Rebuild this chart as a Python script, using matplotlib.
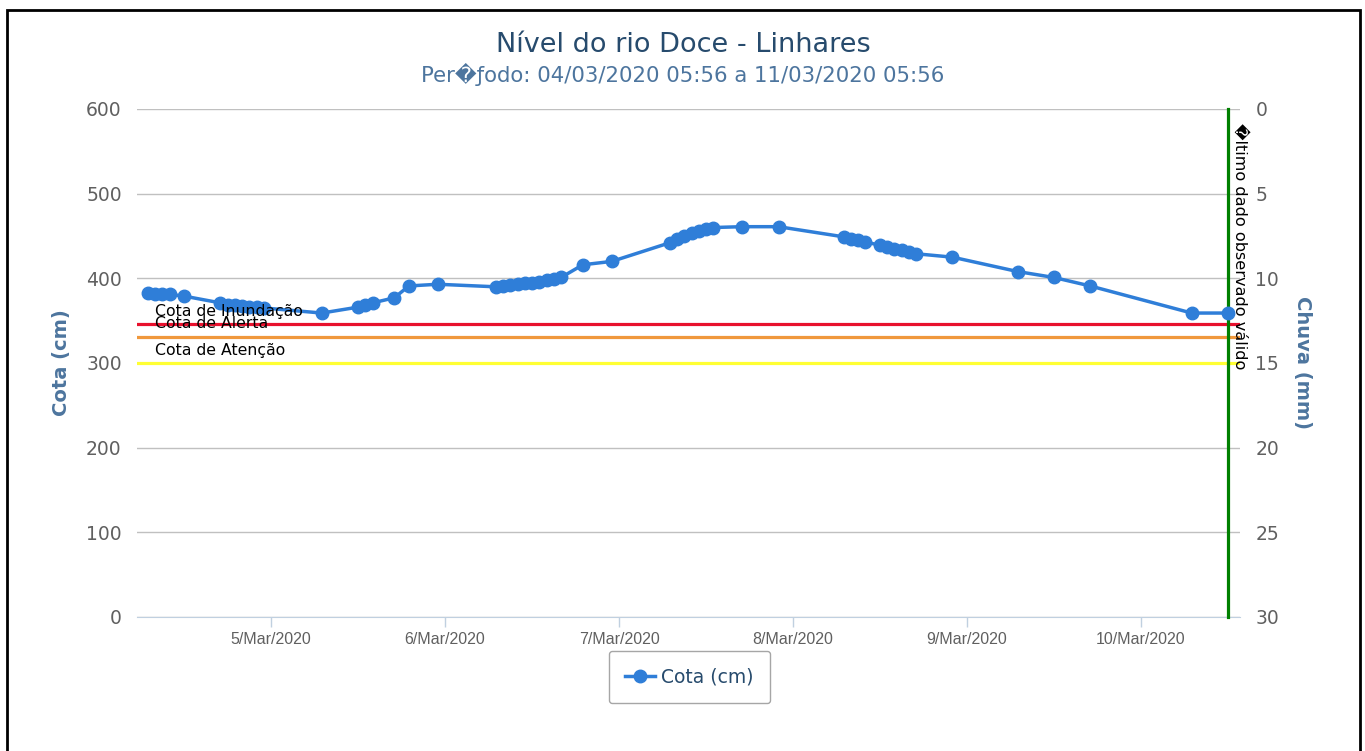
import matplotlib
matplotlib.use("Agg")
import matplotlib.pyplot as plt
import matplotlib.dates as mdates
import matplotlib.transforms as mtransforms
from matplotlib.patches import Rectangle
import pandas as pd

# ---- data ----
times = [
    "2020-03-04 07:00", "2020-03-04 08:00", "2020-03-04 09:00", "2020-03-04 10:00",
    "2020-03-04 12:00",
    "2020-03-04 17:00", "2020-03-04 18:00", "2020-03-04 19:00", "2020-03-04 20:00",
    "2020-03-04 21:00", "2020-03-04 22:00", "2020-03-04 23:00",
    "2020-03-05 07:00", "2020-03-05 12:00", "2020-03-05 13:00", "2020-03-05 14:00",
    "2020-03-05 17:00", "2020-03-05 19:00", "2020-03-05 23:00",
    "2020-03-06 07:00", "2020-03-06 08:00", "2020-03-06 09:00", "2020-03-06 10:00",
    "2020-03-06 11:00", "2020-03-06 12:00", "2020-03-06 13:00", "2020-03-06 14:00",
    "2020-03-06 15:00", "2020-03-06 16:00",
    "2020-03-06 19:00", "2020-03-06 23:00",
    "2020-03-07 07:00", "2020-03-07 08:00", "2020-03-07 09:00", "2020-03-07 10:00",
    "2020-03-07 11:00", "2020-03-07 12:00", "2020-03-07 13:00",
    "2020-03-07 17:00", "2020-03-07 22:00",
    "2020-03-08 07:00", "2020-03-08 08:00", "2020-03-08 09:00", "2020-03-08 10:00",
    "2020-03-08 12:00", "2020-03-08 13:00", "2020-03-08 14:00", "2020-03-08 15:00",
    "2020-03-08 16:00", "2020-03-08 17:00",
    "2020-03-08 22:00",
    "2020-03-09 07:00", "2020-03-09 12:00", "2020-03-09 17:00",
    "2020-03-10 07:00", "2020-03-10 12:00",
]
cota = [
    382.5, 382, 382, 381,
    379,
    371, 369, 368, 367,
    366, 366, 365,
    359, 366, 369, 371,
    377, 391, 393,
    390, 391, 392, 393,
    394, 395, 396, 398,
    399, 401,
    416, 420,
    442, 446, 450, 453,
    456, 458, 460,
    461, 461,
    449, 447, 445, 443,
    439, 437, 435, 433,
    431, 429,
    425,
    408, 401, 391,
    359, 359,
]
tick_days = ["2020-03-05", "2020-03-06", "2020-03-07", "2020-03-08", "2020-03-09", "2020-03-10"]
tick_labels = ["5/Mar/2020", "6/Mar/2020", "7/Mar/2020", "8/Mar/2020", "9/Mar/2020", "10/Mar/2020"]
ref_names = ["Cota de Inundação", "Cota de Alerta", "Cota de Atenção"]
ref_values = [346, 331, 300]
ref_colors = ["#e8112d", "#f0983c", "#ffff33"]
y_ticks = [0, 100, 200, 300, 400, 500, 600]
y2_ticks = [0, 5, 10, 15, 20, 25, 30]

t = pd.to_datetime(times)
xmin = pd.Timestamp("2020-03-04 05:30")
xmax = pd.Timestamp("2020-03-10 13:40")

W, H = 1365, 751
fig = plt.figure(figsize=(W / 100, H / 100), dpi=100)
L, R, T, B = 137, 1240, 109, 617
ax = fig.add_axes([L / W, 1 - B / H, (R - L) / W, (B - T) / H])

ax.plot(t, cota, color="#2f7ed8", lw=2.5, marker="o", ms=9, label="Cota (cm)", zorder=5)

ax.set_xlim(xmin, xmax)
ax.set_ylim(0, 600)
ax.set_yticks(y_ticks)
ax.yaxis.grid(True, color="#c0c0c0", lw=1)
ax.set_axisbelow(True)
for s in ["top", "left", "right"]:
    ax.spines[s].set_visible(False)
ax.spines["bottom"].set_color("#c0d0e0")
ax.tick_params(axis="y", length=0, pad=11, labelsize=13.5, labelcolor="#606060")
ax.set_xticks(pd.to_datetime(tick_days))
ax.set_xticklabels(tick_labels, fontfamily=["Liberation Sans Narrow", "Liberation Sans", "DejaVu Sans"],
                   fontsize=11.5, color="#606060")
ax.tick_params(axis="x", length=7, width=1, color="#c0d0e0", pad=4)

# reference lines
for name, val, col in zip(ref_names, ref_values, ref_colors):
    ax.axhline(val, color=col, lw=2.3, zorder=3)
    tr = mtransforms.offset_copy(ax.get_yaxis_transform(), fig=fig, x=0, y=6, units="points")
    ax.text(18 / (R - L), val, name, transform=tr, fontsize=11.3, color="black",
            va="baseline", ha="left", zorder=6)

# last valid data line
last_t = t[-1]
ax.plot([last_t, last_t], [0, 600], color="#008000", lw=2.3, zorder=4, clip_on=False)
tr2 = mtransforms.offset_copy(ax.transData, fig=fig, x=3, y=-10, units="points")
ax.text(last_t, 600, "\ufffdltimo dado observado válido", transform=tr2, rotation=-90,
        ha="left", va="top", fontsize=11.6, color="black", zorder=6)

# right axis
ax2 = ax.twinx()
ax2.set_ylim(30, 0)
ax2.set_yticks(y2_ticks)
for s in ax2.spines.values():
    s.set_visible(False)
ax2.tick_params(axis="y", length=0, pad=11, labelsize=13.5, labelcolor="#606060")

# titles
fig.text(683 / W, 1 - 45 / H, "Nível do rio Doce - Linhares", ha="center", va="center",
         fontsize=19.5, color="#274b6d")
fig.text(683 / W, 1 - 74 / H, "Per\ufffd\u0192odo: 04/03/2020 05:56 a 11/03/2020 05:56",
         ha="center", va="center", fontsize=15.3, color="#4d759e")
fig.text(62 / W, 1 - 363 / H, "Cota (cm)", rotation=90, ha="center", va="center",
         fontsize=14, fontweight="bold", color="#4d759e")
fig.text(1302 / W, 1 - 363 / H, "Chuva (mm)", rotation=-90, ha="center", va="center",
         fontsize=14, fontweight="bold", color="#4d759e")

# legend
leg = fig.legend(loc="center", bbox_to_anchor=(689.5 / W, 1 - 677 / H), fontsize=13.5,
                 frameon=True, fancybox=True, handlelength=1.55, handletextpad=0.35,
                 borderpad=0.9, labelcolor="#274b6d")
leg.get_frame().set_edgecolor("#909090")
leg.get_frame().set_linewidth(1.0)

# border
fig.patches.append(Rectangle((7 / W, -0.05), 1353 / W, (1 - 10 / H) + 0.05, fill=False,
                             ec="black", lw=2, transform=fig.transFigure, figure=fig))

fig.savefig("out.png", dpi=100)
